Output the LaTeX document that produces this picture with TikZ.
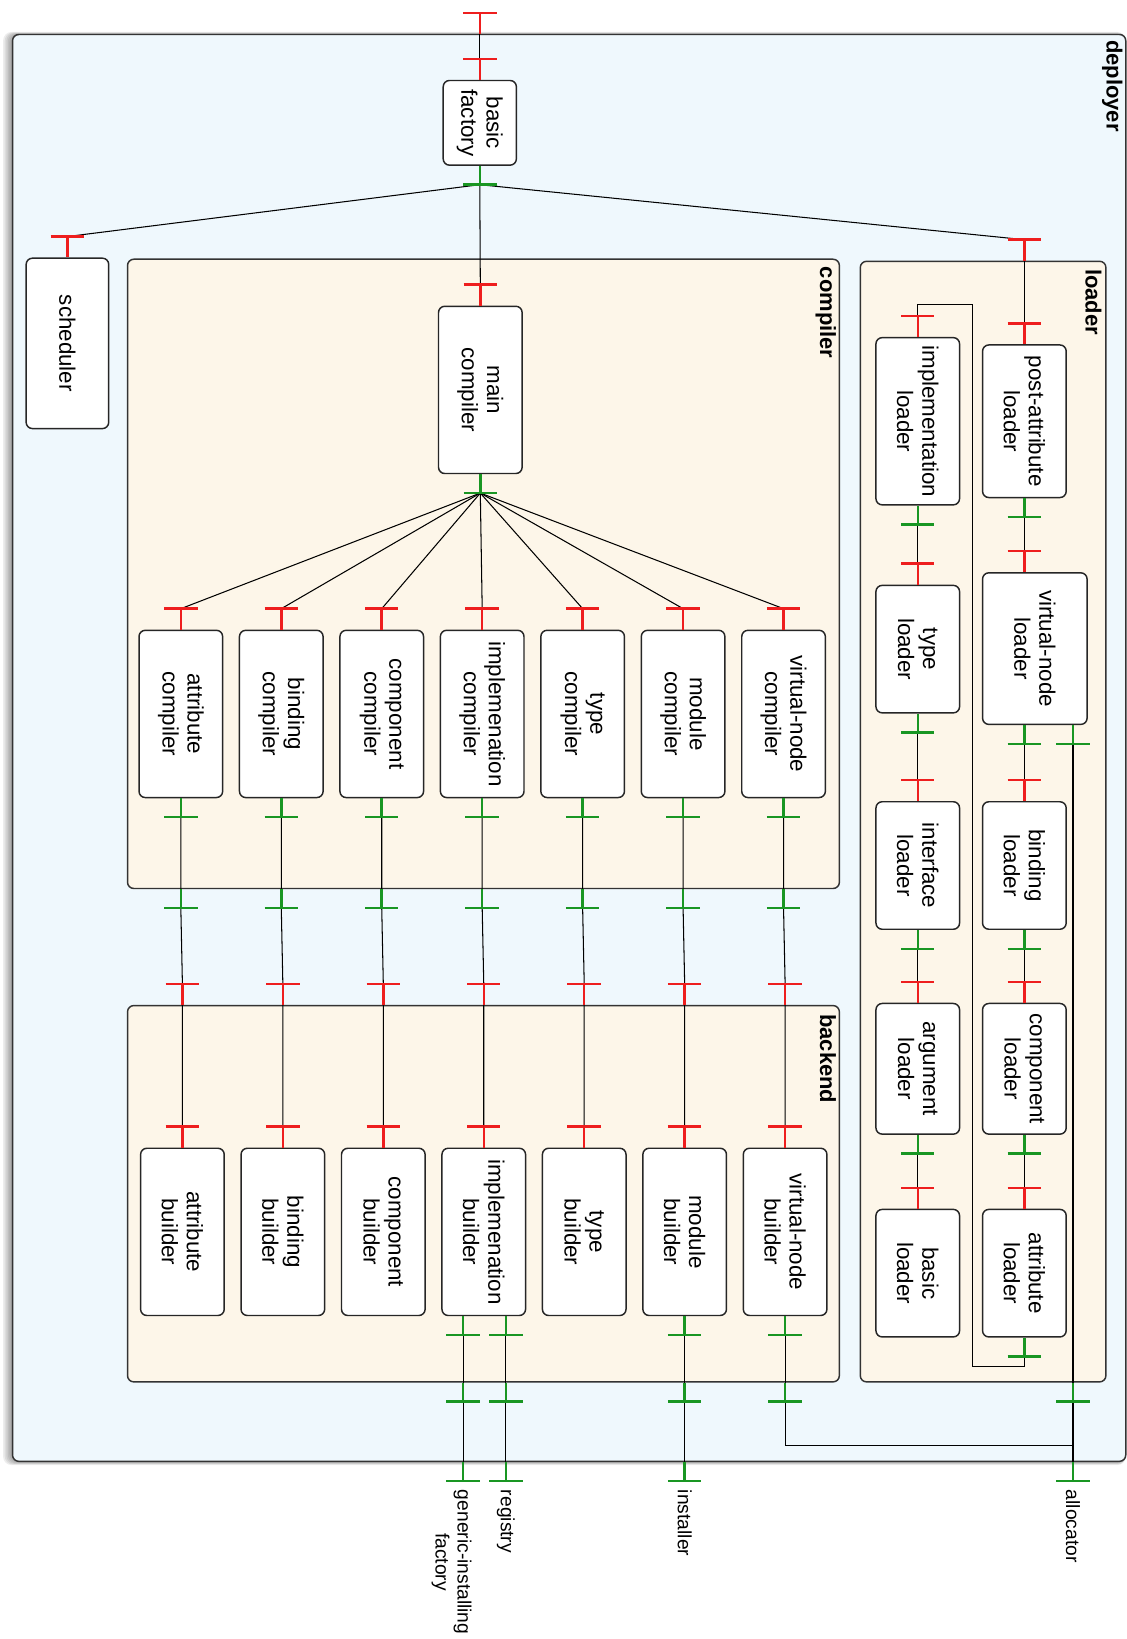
\documentclass[tikz,border=0pt]{standalone}
\usepackage{fontspec}
\setmainfont{Liberation Sans}
\usetikzlibrary{calc}

\definecolor{deployfill}{RGB}{239,248,253}
\definecolor{groupfill}{RGB}{253,246,233}
\definecolor{reqred}{RGB}{238,30,30}
\definecolor{provgreen}{RGB}{25,150,35}

\pgfdeclarelayer{foreground}
\pgfsetlayers{main,foreground}

\tikzset{
  box/.style={draw=black!85, line width=0.7pt, rounded corners=3pt, fill=white,
    rotate=-90, align=center, inner sep=0pt, minimum width=80pt, minimum height=40pt,
    font=\fontsize{10.7}{12}\selectfont},
  group/.style={draw=black!80, line width=0.7pt, rounded corners=3pt, fill=groupfill, inner sep=0pt},
  title/.style={rotate=-90, anchor=west, inner sep=0pt, font=\fontsize{10.5}{12}\selectfont\bfseries},
  extname/.style={rotate=-90, anchor=west, align=center, inner sep=0pt,
    font=\fontsize{9.2}{10.5}\selectfont},
  wire/.style={line width=0.5pt},
  req/.style={draw=reqred, line width=1.2pt},
  prov/.style={draw=provgreen, line width=1.2pt}
}

% ports: #1 = name of the bar, #2 = point on the edge of a box or group
\newcommand\reqport[2]{%
  \coordinate (#1) at ([yshift=10pt]#2);
  \begin{pgfonlayer}{foreground}
    \draw[req] (#1) -- (#2) ([xshift=-8pt]#1) -- ([xshift=8pt]#1);
  \end{pgfonlayer}}
\newcommand\provport[2]{%
  \coordinate (#1) at ([yshift=-9pt]#2);
  \begin{pgfonlayer}{foreground}
    \draw[prov] (#1) -- (#2) ([xshift=-8pt]#1) -- ([xshift=8pt]#1);
  \end{pgfonlayer}}

\begin{document}
\begin{tikzpicture}[x=0.5pt, y=-0.5pt]
\useasboundingbox (0,0) rectangle (1078,1568);

% groups
\foreach \d in {1,...,6}
  \fill[black, opacity=0.07, rounded corners=4pt] (12-1.5*\d,33-0.4*\d) rectangle (1077,1398+0.6*\d);
\node[group, fill=deployfill, minimum width=532.5pt, minimum height=682.5pt] (deployer) at (544.5,715.5) {};
\node[title] (deployer-t) at (1064,38) {deployer};
\node[group, minimum width=340.5pt, minimum height=301pt] (compiler) at (462.5,549) {};
\node[title] (compiler-t) at (790,255) {compiler};
\node[group, minimum width=340.5pt, minimum height=180pt] (backend) at (462.5,1142) {};
\node[title] (backend-t) at (792,970) {backend};
\node[group, minimum width=117.5pt, minimum height=536pt] (loader) at (940.5,786) {};
\node[title] (loader-t) at (1046,257) {loader};

% components
\node[box, minimum width=40.5pt, minimum height=35pt] (bf) at (459,117.5) {basic\\factory};
\node[box, minimum width=81.5pt, minimum height=39.5pt] (sched) at (64.5,328.5) {scheduler};
\node[box] (mc) at (459.5,373) {main\\compiler};
\foreach \i/\t in {0/attribute,1/binding,2/component,3/implemenation,4/type,5/module,6/virtual-node} {
  \node[box] (c\i) at ({173+96.1*\i},683) {\t\\compiler};
  \node[box] (b\i) at ({174.5+96.1*\i},1178.5) {\t\\builder};
}
\node[box, minimum width=73pt] (pal) at (980,403) {post-attribute\\loader};
\node[box, minimum width=72.5pt, minimum height=50pt] (vnl) at (990,620.5) {virtual-node\\loader};
\node[box, minimum width=61pt] (bdl) at (980,828) {binding\\loader};
\node[box, minimum width=62.5pt] (cpl) at (980,1022.5) {component\\loader};
\node[box, minimum width=61pt] (atl) at (980,1218) {attribute\\loader};
\node[box] (iml) at (878,403) {implementation\\loader};
\node[box, minimum width=61pt] (tyl) at (878,621) {type\\loader};
\node[box, minimum width=61pt] (ifl) at (878,828) {interface\\loader};
\node[box, minimum width=62.5pt] (agl) at (878,1022.5) {argument\\loader};
\node[box, minimum width=61pt] (bsl) at (878,1218) {basic\\loader};

% ports
\coordinate (dep-in) at (bf.west |- deployer.north);
\reqport{top}{dep-in}
\reqport{bf-in}{bf.west}
\provport{bf-out}{bf.east}
\reqport{sched-in}{sched.west}
\reqport{mc-in}{mc.west}
\provport{mc-out}{mc.east}
\coordinate (ld-edge) at (pal.west |- loader.north);
\reqport{ld-in}{ld-edge}
\foreach \i in {0,...,6} {
  \reqport{c\i-in}{c\i.west}
  \provport{c\i-out}{c\i.east}
  \coordinate (ce\i) at (c\i.east |- compiler.south);
  \provport{ce\i-out}{ce\i}
  \coordinate (be\i) at (b\i.west |- backend.north);
  \reqport{be\i-in}{be\i}
  \reqport{b\i-in}{b\i.west}
}
\coordinate (gf) at ([xshift=-9.9pt]b3.east);
\coordinate (rg) at ([xshift=10.6pt]b3.east);
\coordinate (ins) at (b5.east);
\coordinate (vb) at (b6.east);
\foreach \p in {gf,rg,ins,vb} {
  \provport{\p-out}{\p}
  \coordinate (\p-be) at (\p |- backend.south);
  \provport{\p-bo}{\p-be}
}
\foreach \p in {gf,rg,ins} {
  \coordinate (\p-de) at (\p |- deployer.south);
  \provport{\p-do}{\p-de}
}
\reqport{pal-in}{pal.west}
\provport{pal-out}{pal.east}
\coordinate (vnl-top) at ([xshift=-5pt]vnl.west);
\reqport{vnl-in}{vnl-top}
\coordinate (vnl-bot) at ([xshift=-5pt]vnl.east);
\provport{vnl-out}{vnl-bot}
\coordinate (al) at ([xshift=18.25pt]vnl.east);
\provport{al-out}{al}
\coordinate (al-le) at (al |- loader.south);
\provport{al-lo}{al-le}
\coordinate (al-de) at (al |- deployer.south);
\provport{al-do}{al-de}
\coordinate (al-join) at ([yshift=-21pt]al-lo);
\foreach \nm in {bdl,cpl,atl,iml,tyl,ifl,agl,bsl} {\reqport{\nm-in}{\nm.west}}
\foreach \nm in {bdl,cpl,atl,iml,tyl,ifl,agl} {\provport{\nm-out}{\nm.east}}

% wires
\draw[wire] (dep-in) -- (bf-in);
\draw[wire] (sched-in) -- (bf-out) -- (ld-in) (bf-out) -- (mc-in);
\draw[wire] (ld-edge) -- (pal-in);
\foreach \i in {0,...,6}
  \draw[wire] (mc-out) -- (c\i-in) (c\i-out) -- (ce\i-out) -- (be\i-in) -- (b\i-in);
\foreach \p in {gf,rg,ins}
  \draw[wire] (\p-out) -- (\p-do);
\draw[wire] (vb-out) -- (vb-bo) |- (al-join);
\draw[wire] (al-out) -- (al-do);
\draw[wire] (pal-out) -- (vnl-in) (vnl-out) -- (bdl-in) (bdl-out) -- (cpl-in) (cpl-out) -- (atl-in);
\draw[wire] (iml-out) -- (tyl-in) (tyl-out) -- (ifl-in) (ifl-out) -- (agl-in) (agl-out) -- (bsl-in);
\coordinate (loop-a) at (930,1307);
\coordinate (loop-b) at (930,291);
\draw[wire] (atl-out) |- (loop-a) -- (loop-b) -| (iml-in);

% external interfaces
\node[extname] (gf-name) at (432,1425) {generic-installing\\factory};
\node[extname] (rg-name) at (484,1425) {registry};
\node[extname] (ins-name) at (655,1425) {installer};
\node[extname] (al-name) at (1026.5,1425) {allocator};
\end{tikzpicture}
\end{document}
